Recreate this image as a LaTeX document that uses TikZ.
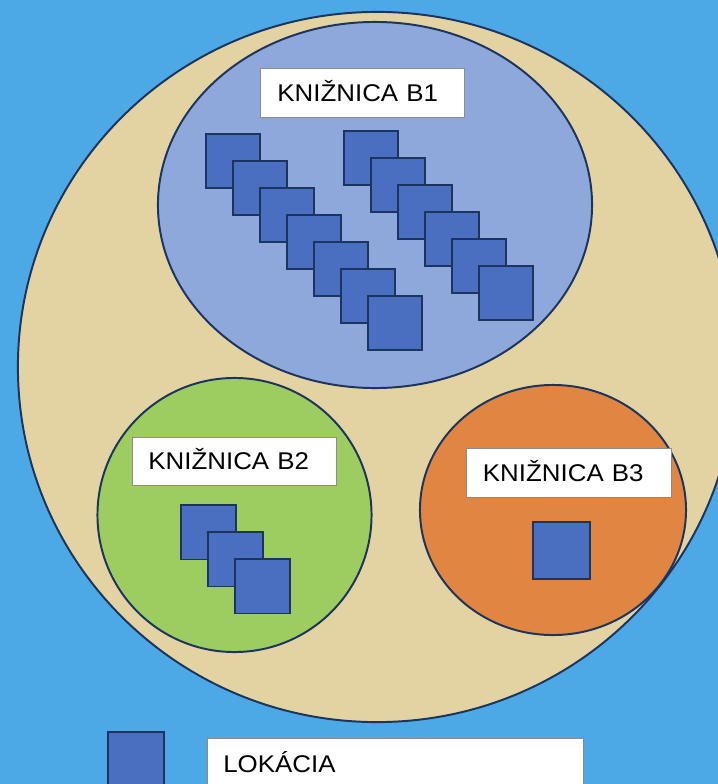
\documentclass[tikz,border=0pt]{standalone}
\usepackage{fontspec}
\setmainfont[FakeStretch=1.07]{Liberation Sans}
\usepackage{xcolor}
\usepackage{tikz}
\usetikzlibrary{positioning,shapes.geometric}
\definecolor{skyBg}{HTML}{4CA9E6}
\definecolor{papyrus}{HTML}{E4D3A2}
\definecolor{libBlue}{HTML}{8FA8DB}
\definecolor{libGreen}{HTML}{9DCC61}
\definecolor{libOrange}{HTML}{E08542}
\definecolor{locBlue}{HTML}{4A6EC0}
\definecolor{ink}{HTML}{1C355E}

\begin{document}
\begin{tikzpicture}[x=0.025cm,y=-0.025cm,
  lib/.style={draw=ink,line width=1.4pt,ellipse,inner sep=0pt},
  loc/.style={draw=ink,fill=locBlue,line width=1.3pt,inner sep=0pt,minimum size=1.35cm},
  lbox/.style={draw=black!45,fill=white,line width=0.5pt,inner ysep=0pt,inner xsep=0.42cm,
    text height=0.43cm,text depth=0pt,align=left,font=\fontsize{17.2pt}{20pt}\selectfont}]
\useasboundingbox (0,0) rectangle (718,784);
\clip (0,0) rectangle (718,784);
\fill[skyBg] (0,0) rectangle (718,784);
% all libraries
\node[lib,fill=papyrus,minimum width=17.95cm,minimum height=17.75cm] (B) at (377,367) {};
% library B1
\node[lib,fill=libBlue,minimum width=10.85cm,minimum height=9.15cm] (B1) at (375,205) {};
\node[lbox,text width=4.25cm,minimum height=1.225cm] (B1lab) at (362.5,92.5) {KNIŽNICA B1};
\foreach \k in {0,...,6}
  \node[loc] (B1a\k) at (233+27*\k,161+27*\k) {};
\foreach \k in {0,...,5}
  \node[loc] (B1b\k) at (371+27*\k,158+27*\k) {};
% library B2
\node[lib,fill=libGreen,minimum size=6.85cm] (B2) at (234.5,515) {};
\node[lbox,text width=4.3cm,minimum height=1.2cm,inner xsep=0.4cm] (B2lab) at (234.5,461) {KNIŽNICA B2};
\foreach \k in {0,...,2}
  \node[loc,minimum size=1.37cm] (B2a\k) at (208.5+27*\k,532+27*\k) {};
% library B3
\node[lib,fill=libOrange,minimum width=6.65cm,minimum height=6.25cm] (B3) at (553,510) {};
\node[lbox,text width=4.3cm,minimum height=1.225cm] (B3lab) at (569,472.5) {KNIŽNICA B3};
\node[loc,minimum size=1.42cm] (B3a) at (561.5,550.5) {};
% legend
\node[loc,minimum size=1.4cm] (legsq) at (136,760) {};
\node[lbox,anchor=north west,text width=8.6cm,inner xsep=0.4cm,inner ysep=0.42cm] (leglab) at (207,738) {LOKÁCIA};
\end{tikzpicture}
\end{document}
